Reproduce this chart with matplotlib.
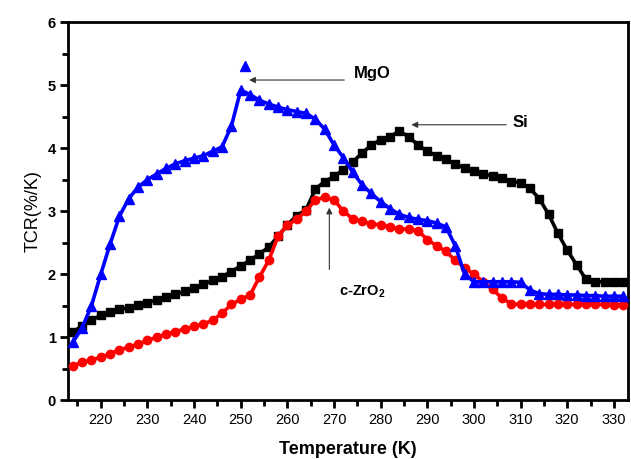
import matplotlib
matplotlib.use("Agg")
import matplotlib.pyplot as plt
from matplotlib.ticker import MultipleLocator

plt.rcParams["font.family"] = ["Liberation Sans", "DejaVu Sans"]

# ---- data ----
temp = list(range(214, 334, 2))

tcr_si = [1.08, 1.18, 1.27, 1.35, 1.40, 1.44, 1.47, 1.51, 1.55, 1.59,
          1.64, 1.68, 1.73, 1.78, 1.84, 1.90, 1.96, 2.04, 2.13, 2.22,
          2.32, 2.43, 2.60, 2.78, 2.93, 3.02, 3.35, 3.47, 3.55, 3.66,
          3.78, 3.92, 4.05, 4.13, 4.18, 4.27, 4.18, 4.05, 3.95, 3.88,
          3.82, 3.75, 3.68, 3.63, 3.59, 3.56, 3.52, 3.47, 3.45, 3.36,
          3.20, 2.95, 2.65, 2.38, 2.15, 1.92, 1.88, 1.88, 1.88, 1.88]

tcr_mgo = [0.92, 1.15, 1.50, 2.00, 2.48, 2.92, 3.20, 3.38, 3.50, 3.59,
           3.68, 3.75, 3.80, 3.84, 3.88, 3.95, 4.02, 4.35, 4.92, 4.85,
           4.76, 4.70, 4.65, 4.61, 4.58, 4.55, 4.46, 4.30, 4.05, 3.85,
           3.62, 3.42, 3.28, 3.15, 3.04, 2.95, 2.90, 2.87, 2.85, 2.81,
           2.75, 2.45, 2.00, 1.88, 1.88, 1.88, 1.88, 1.88, 1.87, 1.75,
           1.69, 1.68, 1.68, 1.67, 1.67, 1.66, 1.66, 1.65, 1.65, 1.65]

tcr_zro2 = [0.55, 0.60, 0.64, 0.68, 0.74, 0.80, 0.84, 0.89, 0.95, 1.00,
            1.05, 1.09, 1.13, 1.17, 1.21, 1.27, 1.38, 1.52, 1.60, 1.67,
            1.95, 2.22, 2.60, 2.78, 2.87, 3.00, 3.18, 3.22, 3.18, 3.00,
            2.88, 2.84, 2.80, 2.78, 2.75, 2.72, 2.71, 2.69, 2.55, 2.45,
            2.36, 2.22, 2.10, 2.00, 1.88, 1.76, 1.62, 1.53, 1.52, 1.52,
            1.52, 1.52, 1.52, 1.52, 1.52, 1.52, 1.52, 1.52, 1.51, 1.51]

# stray MgO data point above the smoothed peak
mgo_peak_t = [251]
mgo_peak_v = [5.3]

fig = plt.figure(figsize=(6.31, 4.59), dpi=100)
ax = fig.add_axes([0.108, 0.128, 0.887, 0.824])

ax.plot(temp, tcr_si, color="black", lw=2.6, marker="s", ms=5.5, zorder=3)
ax.plot(temp, tcr_zro2, color="red", lw=2.6, marker="o", ms=6, zorder=4)
ax.plot(temp, tcr_mgo, color="blue", lw=2.6, marker="^", ms=6.5, zorder=5)
ax.plot(mgo_peak_t, mgo_peak_v, color="blue", ls="none", marker="^", ms=7.5, zorder=5)

ax.set_xlim(213, 333)
ax.set_ylim(0, 6)
ax.xaxis.set_major_locator(MultipleLocator(10))
ax.xaxis.set_minor_locator(MultipleLocator(5))
ax.yaxis.set_major_locator(MultipleLocator(1))
ax.yaxis.set_minor_locator(MultipleLocator(0.5))
ax.set_xticks(range(220, 331, 10))

ax.tick_params(which="major", direction="out", length=6, width=2, labelsize=10.5, pad=3)
ax.tick_params(which="minor", direction="out", length=4, width=2)
for lab in ax.get_yticklabels():
    lab.set_fontweight("bold")
for s in ax.spines.values():
    s.set_linewidth(2)

ax.set_xlabel("Temperature (K)", fontsize=13, fontweight="bold", labelpad=10)
ax.set_ylabel("TCR(%/K)", fontsize=13, labelpad=4)

arrow = dict(arrowstyle="-|>", color="#333333", lw=0.8, mutation_scale=9)
ax.annotate("", xy=(251.2, 5.08), xytext=(272.8, 5.08), arrowprops=arrow)
ax.text(274.3, 5.19, "MgO", fontsize=12, fontweight="bold", va="center", ha="left")

ax.annotate("", xy=(286, 4.37), xytext=(307.5, 4.37), arrowprops=arrow)
ax.text(308.2, 4.40, "Si", fontsize=12, fontweight="bold", va="center", ha="left")

ax.annotate("", xy=(269.0, 3.10), xytext=(269.0, 2.03), arrowprops=arrow)
ax.text(276, 1.72, "c-ZrO$_\\mathregular{2}$", fontsize=10.5, fontweight="bold",
        va="center", ha="center")

fig.savefig("out.png", dpi=100)
